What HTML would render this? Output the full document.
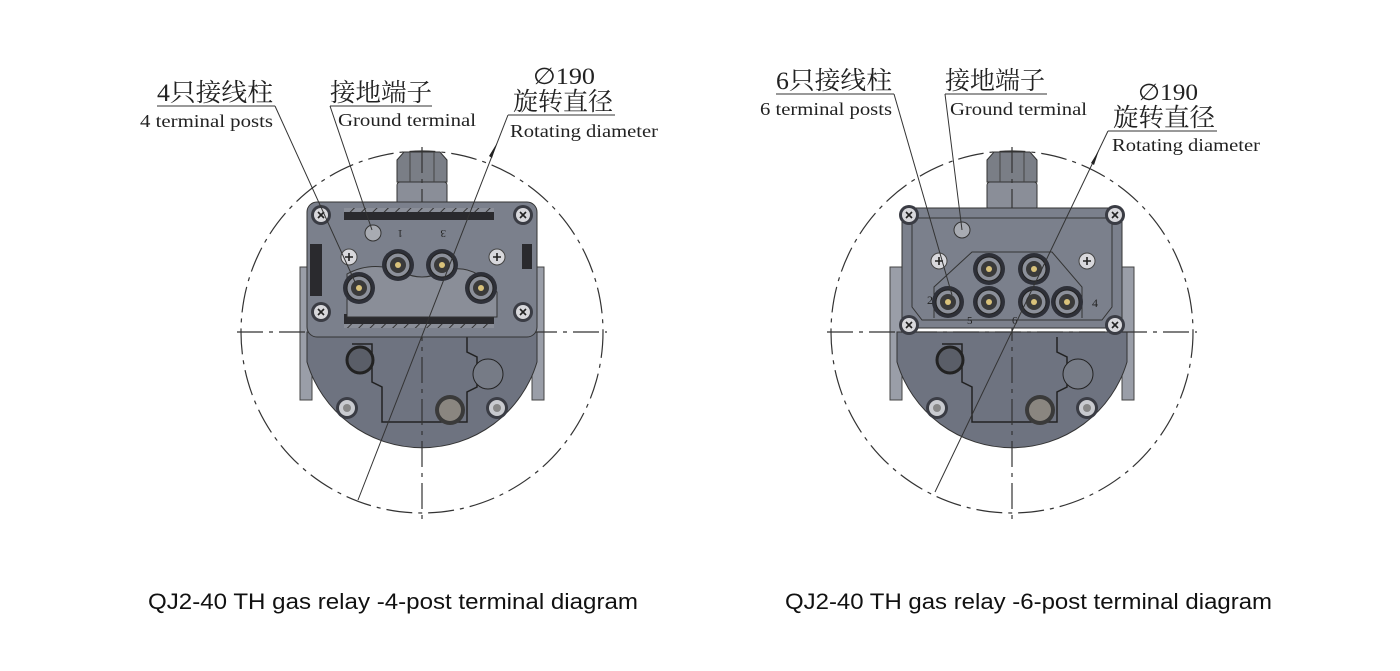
<!DOCTYPE html>
<html><head><meta charset="utf-8"><style>
html,body{margin:0;padding:0;background:#fff;}
svg{display:block}
.cn{font-family:"Liberation Serif","Noto Serif CJK SC",serif;font-size:25px;fill:#222}
.en{font-family:"Liberation Serif",serif;font-size:18px;fill:#222}
.cap{font-family:"Liberation Sans",sans-serif;font-size:22px;fill:#111}
</style></head><body>
<svg width="1400" height="671" viewBox="0 0 1400 671" xmlns="http://www.w3.org/2000/svg">
<defs>
<pattern id="hatch" width="8" height="8" patternUnits="userSpaceOnUse" patternTransform="rotate(45)"><rect width="8" height="8" fill="#8a8e98"/><line x1="0" y1="0" x2="0" y2="8" stroke="#333" stroke-width="2"/></pattern>
<g id="screw"><circle r="10" fill="#3a3c44"/><circle r="7" fill="#d8d8dc"/><path d="M-3,-3L3,3M3,-3L-3,3" stroke="#222" stroke-width="1.6"/></g>
<g id="plus"><circle r="8" fill="#d8d8dc" stroke="#444"/><path d="M-4,0H4M0,-4V4" stroke="#222" stroke-width="1.6"/></g>
<g id="term"><circle r="16" fill="#2e3038"/><circle r="12" fill="#8c909a" stroke="#222"/><circle r="8" fill="#3a3a3a"/><circle r="3" fill="#d9c27a"/></g>
<g id="flat"><circle r="11" fill="#3a3c44"/><circle r="8" fill="#c9cbd0"/><circle r="4" fill="#888"/></g>
<g id="base">
  <circle r="181" fill="none" stroke="#333" stroke-width="1.2" stroke-dasharray="26,6,4,6"/>
  <rect x="-122" y="-65" width="12" height="133" fill="#9a9ea8" stroke="#444"/>
  <rect x="110" y="-65" width="12" height="133" fill="#9a9ea8" stroke="#444"/>
  <path d="M-115,0 L-115,30 A120 120 0 0 0 115 30 L115 0 Z" fill="#6e7380" stroke="#333"/>
  <rect x="-25" y="-150" width="50" height="28" rx="3" fill="#8a8e98" stroke="#333"/>
  <path d="M-25,-150 L-25,-172 L-18,-180 L18,-180 L25,-172 L25,-150 Z" fill="#7a7e86" stroke="#333"/>
  <path d="M-12,-180 V-150 M12,-180 V-150" stroke="#444"/>
  <path d="M-70,12 L-50,12 L-50,50 L-40,55 L-40,90 L45,90 L45,60 L55,55 L55,25 L45,20 L45,5" fill="none" stroke="#222" stroke-width="1.5"/>
  <circle cx="-62" cy="28" r="13" fill="#5a5e68" stroke="#222" stroke-width="3"/>
  <circle cx="66" cy="42" r="15" fill="#767b86" stroke="#222"/>
  <circle cx="28" cy="78" r="15" fill="#3a3a3a"/><circle cx="28" cy="78" r="11" fill="#8a8680"/>
  <use href="#flat" x="-75" y="76"/><use href="#flat" x="75" y="76"/>
  <line x1="-185" y1="0" x2="185" y2="0" stroke="#333" stroke-width="1.2" stroke-dasharray="26,6,4,6"/>
  <line x1="0" y1="-185" x2="0" y2="190" stroke="#333" stroke-width="1.2" stroke-dasharray="26,6,4,6"/>
</g>
</defs>

<!-- LEFT -->
<g transform="translate(422,332)">
  <use href="#base"/>
  <rect x="-115" y="-130" width="230" height="135" rx="10" fill="#7b808c" stroke="#333"/>
  <rect x="-78" y="-124" width="150" height="4" fill="url(#hatch)"/>
  <rect x="-78" y="-120" width="150" height="8" fill="#2a2a2e"/>
  <rect x="-78" y="-18" width="150" height="10" fill="#2a2a2e"/>
  <rect x="-78" y="-8" width="150" height="4" fill="url(#hatch)"/>
  <rect x="-112" y="-88" width="12" height="52" fill="#2a2a2e"/>
  <rect x="100" y="-88" width="10" height="25" fill="#2a2a2e"/>
  <path d="M-75,-58 Q-50,-72 -20,-60 Q0,-50 20,-60 Q50,-72 75,-40 L75,-15 L-75,-15 Z" fill="#8a8e98" stroke="#333"/>
  <circle cx="-49" cy="-99" r="8" fill="#a8abb2" stroke="#333"/>
  <text x="-25" y="-94" font-size="11" fill="#222" transform="rotate(180 -22 -98)">1</text>
  <text x="18" y="-94" font-size="11" fill="#222" transform="rotate(180 21 -98)">3</text>
  <use href="#plus" x="-73" y="-75"/><use href="#plus" x="75" y="-75"/>
  <use href="#term" x="-24" y="-67"/><use href="#term" x="20" y="-67"/>
  <use href="#term" x="-63" y="-44"/><use href="#term" x="59" y="-44"/>
  <use href="#screw" x="-101" y="-117"/><use href="#screw" x="101" y="-117"/>
  <use href="#screw" x="-101" y="-20"/><use href="#screw" x="101" y="-20"/>
</g>
<text class="cn" x="157" y="101" textLength="116" lengthAdjust="spacingAndGlyphs">4只接线柱</text>
<line x1="157" y1="106" x2="275" y2="106" stroke="#333"/>
<text class="en" x="140" y="127" textLength="133" lengthAdjust="spacingAndGlyphs">4 terminal posts</text>
<line x1="275" y1="106" x2="355" y2="282" stroke="#333"/>
<text class="cn" x="330" y="101" textLength="102" lengthAdjust="spacingAndGlyphs">接地端子</text>
<line x1="330" y1="106" x2="432" y2="106" stroke="#333"/>
<text class="en" x="338" y="126" textLength="138" lengthAdjust="spacingAndGlyphs">Ground terminal</text>
<line x1="330" y1="106" x2="372" y2="230" stroke="#333"/>
<text class="en" x="533" y="84" style="font-size:23px" textLength="62" lengthAdjust="spacingAndGlyphs">∅190</text>
<text class="cn" x="513" y="110" textLength="100" lengthAdjust="spacingAndGlyphs">旋转直径</text>
<line x1="508" y1="115" x2="615" y2="115" stroke="#333"/>
<text class="en" x="510" y="137" textLength="148" lengthAdjust="spacingAndGlyphs">Rotating diameter</text>
<line x1="508" y1="115" x2="358" y2="500" stroke="#333"/>
<path d="M497,143 L492,158 L489,156 Z" fill="#222"/>

<!-- RIGHT -->
<g transform="translate(1012,332)">
  <use href="#base"/>
  <rect x="-110" y="-124" width="220" height="120" rx="8" fill="#7b808c" stroke="#333"/>
  <path d="M-100,-114 H100 L100,-25 L90,-12 H-90 L-100,-25 Z" fill="none" stroke="#333"/>
  <path d="M-78,-14 V-45 L-40,-80 H40 L70,-45 V-14" fill="none" stroke="#333"/>
  <circle cx="-50" cy="-102" r="8" fill="#a8abb2" stroke="#333"/>
  <use href="#plus" x="-73" y="-71"/><use href="#plus" x="75" y="-71"/>
  <use href="#term" x="-23" y="-63"/><use href="#term" x="22" y="-63"/>
  <use href="#term" x="-64" y="-30"/><use href="#term" x="-23" y="-30"/>
  <use href="#term" x="22" y="-30"/><use href="#term" x="55" y="-30"/>
  <text x="-85" y="-28" font-size="12" fill="#222">2</text>
  <text x="80" y="-25" font-size="12" fill="#222">4</text>
  <text x="-45" y="-8" font-size="11" fill="#222">5</text>
  <text x="0" y="-8" font-size="11" fill="#222">6</text>
  <use href="#screw" x="-103" y="-117"/><use href="#screw" x="103" y="-117"/>
  <use href="#screw" x="-103" y="-7"/><use href="#screw" x="103" y="-7"/>
</g>
<text class="cn" x="776" y="89" textLength="116" lengthAdjust="spacingAndGlyphs">6只接线柱</text>
<line x1="776" y1="94" x2="894" y2="94" stroke="#333"/>
<text class="en" x="760" y="115" textLength="132" lengthAdjust="spacingAndGlyphs">6 terminal posts</text>
<line x1="894" y1="94" x2="952" y2="295" stroke="#333"/>
<text class="cn" x="945" y="89" textLength="100" lengthAdjust="spacingAndGlyphs">接地端子</text>
<line x1="945" y1="94" x2="1047" y2="94" stroke="#333"/>
<text class="en" x="950" y="115" textLength="137" lengthAdjust="spacingAndGlyphs">Ground terminal</text>
<line x1="945" y1="94" x2="962" y2="230" stroke="#333"/>
<text class="en" x="1138" y="100" style="font-size:23px" textLength="60" lengthAdjust="spacingAndGlyphs">∅190</text>
<text class="cn" x="1113" y="126" textLength="102" lengthAdjust="spacingAndGlyphs">旋转直径</text>
<line x1="1108" y1="131" x2="1217" y2="131" stroke="#333"/>
<text class="en" x="1112" y="151" textLength="148" lengthAdjust="spacingAndGlyphs">Rotating diameter</text>
<line x1="1108" y1="131" x2="935" y2="492" stroke="#333"/>
<path d="M1099,150 L1094,165 L1091,163 Z" fill="#222"/>

<text class="cap" x="148" y="609" textLength="490" lengthAdjust="spacingAndGlyphs">QJ2-40 TH gas relay -4-post terminal diagram</text>
<text class="cap" x="785" y="609" textLength="487" lengthAdjust="spacingAndGlyphs">QJ2-40 TH gas relay -6-post terminal diagram</text>
</svg>
</body></html>
